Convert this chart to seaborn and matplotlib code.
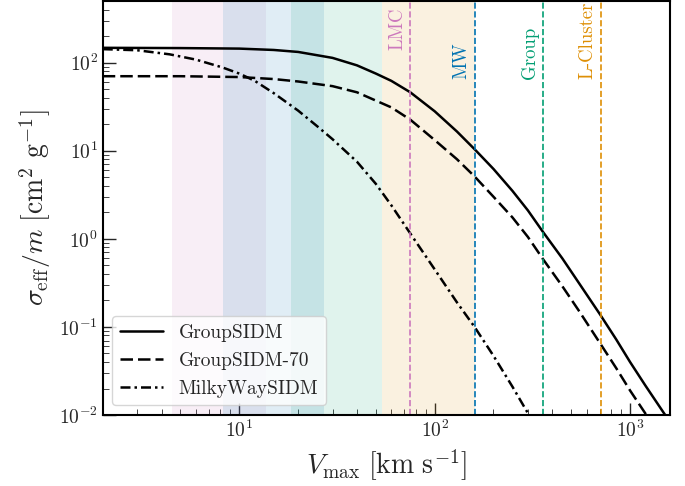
import matplotlib
matplotlib.use("Agg")
import numpy as np
import pandas as pd
import matplotlib.pyplot as plt
import seaborn as sns

# curves (V_max in km/s, sigma/m in cm^2/g)
v_group = [2, 5, 10, 15, 20, 30, 40, 50, 60, 75, 100, 130, 160, 200, 250, 300,
           360, 450, 550, 700, 850, 1000, 1200, 1500, 1700]
s_group = [147, 146, 144, 139, 132, 113, 93, 75, 62, 46, 28, 16.5, 10.4, 6.2, 3.5, 2.1,
           1.18, 0.6, 0.31, 0.14, 0.072, 0.04, 0.0215, 0.0103, 0.0068]

v_group70 = [2, 5, 10, 15, 20, 30, 40, 50, 60, 75, 100, 130, 160, 200, 250, 300,
             360, 450, 550, 700, 850, 1000, 1220, 1350]
s_group70 = [70, 70, 68.5, 65, 61, 54, 46, 37, 31, 22.5, 13.2, 8.0, 5.1, 3.0, 1.75, 1.05,
             0.58, 0.29, 0.15, 0.066, 0.034, 0.019, 0.0098, 0.0068]

v_mw = [2, 3, 4.4, 6, 8.2, 10, 12, 15, 20, 25, 30, 40, 50, 60, 75, 100, 130, 160,
        200, 250, 300, 330]
s_mw = [142, 138, 124, 108, 88, 75, 62, 45, 28.5, 19, 13.5, 7.5, 4.2, 2.4, 1.15, 0.45,
        0.19, 0.1, 0.047, 0.021, 0.0105, 0.0075]

# shaded velocity ranges
band_lo = [4.5, 8.3, 18.3, 54]
band_hi = [13.7, 27, 54, 160]

# reference systems
sys_names = ["LMC", "MW", "Group", "L-Cluster"]
sys_v = [75, 160, 360, 710]
sys_label_y = [0.882, 0.812, 0.812, 0.812]

sns.set_style("ticks")
plt.rcParams.update({
    "font.family": "serif",
    "font.serif": ["cmr10"],
    "mathtext.fontset": "cm",
    "axes.formatter.use_mathtext": True,
    "xtick.direction": "in",
    "ytick.direction": "in",
    "xtick.major.size": 9,
    "ytick.major.size": 9,
    "xtick.minor.size": 4.5,
    "ytick.minor.size": 4.5,
    "xtick.major.width": 1.0,
    "ytick.major.width": 1.0,
    "axes.linewidth": 1.5,
    "axes.edgecolor": "black",
})

pal = sns.color_palette("colorblind")
band_colors = [pal[4], pal[0], pal[2], pal[1]]
sys_colors = [pal[4], pal[0], pal[2], pal[1]]

fig = plt.figure(figsize=(6.85, 4.86), dpi=100)
ax = fig.add_axes([0.150, 0.146, 0.828, 0.852])

for lo, hi, c in zip(band_lo, band_hi, band_colors):
    ax.axvspan(lo, hi, color=c, alpha=0.12, lw=0)

curves = pd.DataFrame({
    "v": v_group + v_group70 + v_mw,
    "s": s_group + s_group70 + s_mw,
    "model": ["GroupSIDM"] * len(v_group) + ["GroupSIDM-70"] * len(v_group70)
             + ["MilkyWaySIDM"] * len(v_mw),
})

dashes = {"GroupSIDM": (None, None), "GroupSIDM-70": (5, 2),
          "MilkyWaySIDM": (4, 1.6, 1, 1.6)}
for name, d in curves.groupby("model", sort=False):
    sns.lineplot(data=d, x="v", y="s", ax=ax, color="black", lw=1.8,
                 label=name, sort=False, estimator=None)
for ln, name in zip(ax.get_lines(), dashes):
    if name != "GroupSIDM":
        ln.set_dashes(dashes[name])

for name, v, yl, c in zip(sys_names, sys_v, sys_label_y, sys_colors):
    ax.axvline(v, color=c, ls="--", lw=1.2)
    ax.annotate(name, xy=(v, yl), xycoords=ax.get_xaxis_transform(),
                xytext=(-3, 0), textcoords="offset points", rotation=90,
                ha="right", va="bottom", color=c, fontsize=13.5)

ax.set_xscale("log")
ax.set_yscale("log")
ax.set_xlim(2, 1600)
ax.set_ylim(1e-2, 500)
ax.tick_params(labelsize=14)
ax.set_xlabel(r"$V_{\rm max}\ [{\rm km\ s^{-1}}]$", fontsize=20)
ax.set_ylabel(r"$\sigma_{\rm eff}/m\ [{\rm cm^2\ g^{-1}}]$", fontsize=20)

handles, labels = ax.get_legend_handles_labels()
leg = ax.legend(handles[:3], labels[:3], loc="lower left", fontsize=14,
                frameon=True, handlelength=2.2)
for h, name in zip(leg.get_lines(), dashes):
    if name != "GroupSIDM":
        h.set_dashes(dashes[name])

fig.savefig("out.png", dpi=100)
